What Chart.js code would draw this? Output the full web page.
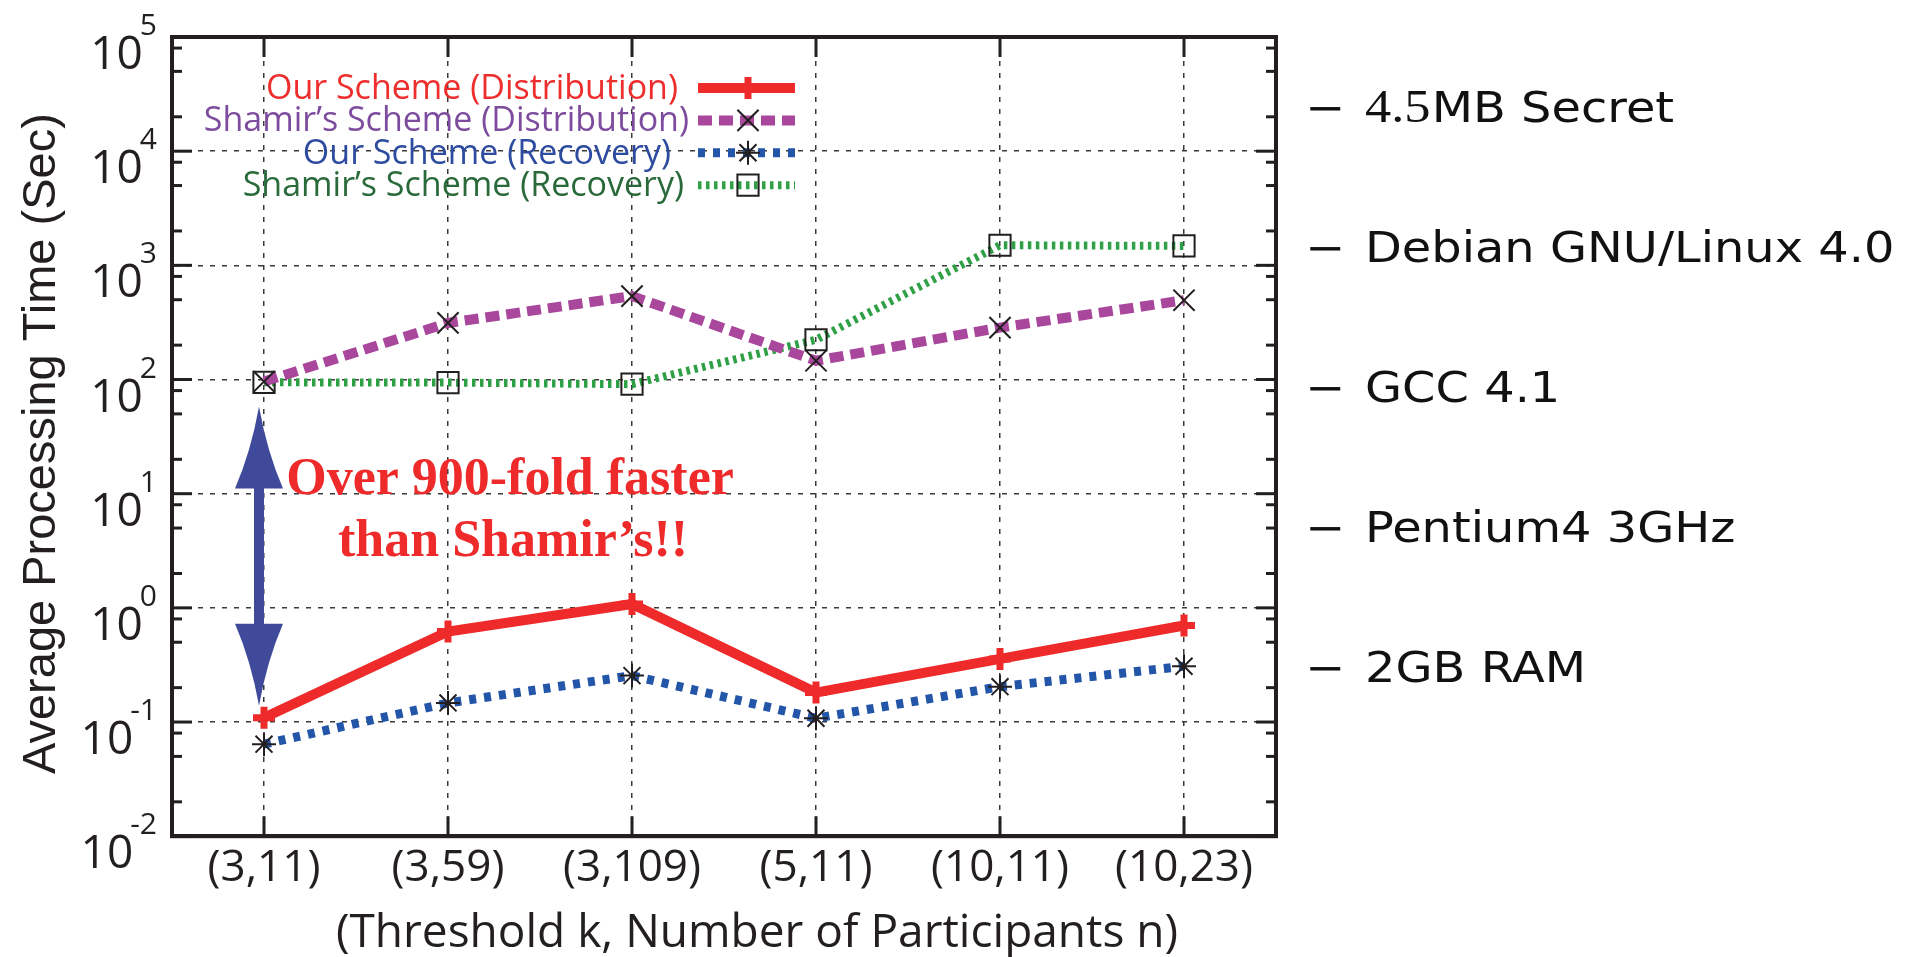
<!DOCTYPE html>
<html>
<head>
<meta charset="utf-8">
<style>
html,body{margin:0;padding:0;background:#fff;}
#wrap{width:1912px;height:957px;position:relative;}
canvas{display:block;}
</style>
<script src="https://cdn.jsdelivr.net/npm/chart.js"></script>
</head>
<body>
<div id="wrap"><canvas id="c"></canvas></div>
<script>
// ---------- data ----------
const categories = ['(3,11)', '(3,59)', '(3,109)', '(5,11)', '(10,11)', '(10,23)'];
const ourDistribution    = [0.109, 0.62, 1.08, 0.181, 0.357, 0.70];
const shamirDistribution = [96, 313, 538, 146, 285, 495];
const ourRecovery        = [0.064, 0.147, 0.255, 0.108, 0.204, 0.308];
const shamirRecovery     = [94.5, 94, 91, 223, 1500, 1480];
const seriesNames = ['Our Scheme (Distribution)', 'Shamir\u2019s Scheme (Distribution)', 'Our Scheme (Recovery)', 'Shamir\u2019s Scheme (Recovery)'];
const yExponents = [-2, -1, 0, 1, 2, 3, 4, 5];
const yMinorMultipliers = [2, 5, 8];
const xTitle = '(Threshold k, Number of Participants n)';
const yTitle = 'Average Processing Time (Sec)';
const noteLines = ['Over 900-fold faster', 'than Shamir\u2019s!!'];
const arrowFrom = 58;     // upper arrow tip (value on y axis)
const arrowTo = 0.139;    // lower arrow tip (value on y axis)
const sideNoteMath = ['4.5', '', '', '', ''];
const sideNotes = ['MB Secret', 'Debian GNU/Linux 4.0', 'GCC 4.1', 'Pentium4 3GHz', '2GB RAM'];

// ---------- styles ----------
const INK = '#231f20';
const legendTextColors = ['#ee2d2d', '#7d4c9e', '#2d4c9f', '#2a6a3a'];
const legendRight = [678, 689, 671, 684];
const SANS = '"Open Sans", "Noto Sans", sans-serif';

const datasets = [
  { label: seriesNames[0], data: ourDistribution, borderColor: '#ee2a2a', borderWidth: 10, borderDash: [],
    pointStyle: 'cross', pointRadius: 11, pointBorderColor: '#ee2a2a', pointBorderWidth: 7, pointBackgroundColor: '#ee2a2a' },
  { label: seriesNames[1], data: shamirDistribution, borderColor: '#a8479b', borderWidth: 10, borderDash: [14, 7],
    pointStyle: 'crossRot', pointRadius: 15, pointBorderColor: INK, pointBorderWidth: 2, pointBackgroundColor: 'rgba(0,0,0,0)' },
  { label: seriesNames[2], data: ourRecovery, borderColor: '#2356a8', borderWidth: 9, borderDash: [7, 8],
    pointStyle: 'star', pointRadius: 12, pointBorderColor: INK, pointBorderWidth: 2, pointBackgroundColor: 'rgba(0,0,0,0)' },
  { label: seriesNames[3], data: shamirRecovery, borderColor: '#2fa046', borderWidth: 8, borderDash: [3.5, 4.5],
    pointStyle: 'rect', pointRadius: 15, pointBorderColor: INK, pointBorderWidth: 2, pointBackgroundColor: 'rgba(0,0,0,0)' }
];
datasets.forEach(d => { d.fill = false; d.tension = 0; d.pointHoverRadius = d.pointRadius; });

function seg(ctx, x1, y1, x2, y2) { ctx.beginPath(); ctx.moveTo(x1, y1); ctx.lineTo(x2, y2); ctx.stroke(); }

function marker(ctx, style, x, y, r, color, w) {
  ctx.save();
  ctx.setLineDash([]);
  ctx.strokeStyle = color; ctx.lineWidth = w;
  ctx.beginPath();
  const d = r * Math.SQRT1_2;
  if (style === 'cross' || style === 'star') { ctx.moveTo(x - r, y); ctx.lineTo(x + r, y); ctx.moveTo(x, y - r); ctx.lineTo(x, y + r); }
  if (style === 'crossRot' || style === 'star') { ctx.moveTo(x - d, y - d); ctx.lineTo(x + d, y + d); ctx.moveTo(x - d, y + d); ctx.lineTo(x + d, y - d); }
  if (style === 'rect') { ctx.rect(x - d, y - d, 2 * d, 2 * d); }
  ctx.stroke();
  ctx.restore();
}

const decor = {
  id: 'decor',
  afterDraw(chart) {
    const ctx = chart.ctx, ca = chart.chartArea, xs = chart.scales.x, ys = chart.scales.y;
    ctx.save();
    ctx.setLineDash([]);

    // frame
    ctx.strokeStyle = INK; ctx.lineWidth = 4;
    ctx.strokeRect(ca.left, ca.top, ca.right - ca.left, ca.bottom - ca.top);

    // inward ticks
    ctx.lineWidth = 3;
    categories.forEach((c, i) => {
      const px = xs.getPixelForValue(i);
      seg(ctx, px, ca.bottom, px, ca.bottom - 20);
      seg(ctx, px, ca.top, px, ca.top + 20);
    });
    yExponents.forEach((e, k) => {
      const py = ys.getPixelForValue(Math.pow(10, e));
      seg(ctx, ca.left, py, ca.left + 20, py);
      seg(ctx, ca.right, py, ca.right - 20, py);
      if (k < yExponents.length - 1) {
        yMinorMultipliers.forEach(m => {
          const pm = ys.getPixelForValue(m * Math.pow(10, e));
          seg(ctx, ca.left, pm, ca.left + 10, pm);
          seg(ctx, ca.right, pm, ca.right - 10, pm);
        });
      }
    });

    // y tick labels 10^e
    ctx.fillStyle = INK; ctx.textBaseline = 'alphabetic';
    yExponents.forEach(e => {
      const py = ys.getPixelForValue(Math.pow(10, e));
      const expStr = e < 0 ? '-' + Math.abs(e) : String(e);
      const expRight = ca.left - 15;
      ctx.font = '30px ' + SANS; ctx.textAlign = 'right';
      ctx.fillText(expStr, expRight, py - 2);
      const ew = ctx.measureText(expStr).width;
      ctx.font = '46px ' + SANS;
      ctx.fillText('10', expRight - ew + 3, py + 32);
    });

    // axis titles
    ctx.save();
    ctx.translate(55, (ca.top + ca.bottom) / 2 + 7);
    ctx.rotate(-Math.PI / 2);
    ctx.textAlign = 'center';
    ctx.font = '47px "Liberation Sans", Arial, sans-serif';
    ctx.fillText(yTitle, 0, 0);
    ctx.restore();
    ctx.textAlign = 'center';
    ctx.font = '46px ' + SANS;
    ctx.fillText(xTitle, (ca.left + ca.right) / 2 + 33, 947);

    // legend
    chart.data.datasets.forEach((ds, i) => {
      const cy = 88 + i * 32.4;
      ctx.font = '34px ' + SANS; ctx.textAlign = 'right'; ctx.fillStyle = legendTextColors[i];
      ctx.fillText(ds.label, legendRight[i], cy + 11);
      ctx.save();
      ctx.strokeStyle = ds.borderColor; ctx.lineWidth = ds.borderWidth; ctx.lineCap = 'butt';
      ctx.setLineDash(ds.borderDash || []);
      seg(ctx, 698, cy, 795, cy);
      ctx.restore();
      marker(ctx, ds.pointStyle, 748, cy, ds.pointRadius, ds.pointBorderColor, ds.pointBorderWidth);
    });

    // double arrow
    const ax = xs.getPixelForValue(0) - 5;
    const t = ys.getPixelForValue(arrowFrom), b = ys.getPixelForValue(arrowTo);
    const hl = 82, hw = 24, sw = 5;
    ctx.fillStyle = '#404a9b';
    ctx.beginPath();
    ctx.moveTo(ax, t);
    ctx.quadraticCurveTo(ax + 8, t + 45, ax + hw, t + hl);
    ctx.lineTo(ax + sw, t + hl);
    ctx.lineTo(ax + sw, b - hl);
    ctx.lineTo(ax + hw, b - hl);
    ctx.quadraticCurveTo(ax + 8, b - 45, ax, b);
    ctx.quadraticCurveTo(ax - 8, b - 45, ax - hw, b - hl);
    ctx.lineTo(ax - sw, b - hl);
    ctx.lineTo(ax - sw, t + hl);
    ctx.lineTo(ax - hw, t + hl);
    ctx.quadraticCurveTo(ax - 8, t + 45, ax, t);
    ctx.closePath();
    ctx.fill();

    // annotation text
    ctx.fillStyle = '#ee2a2a'; ctx.textAlign = 'center';
    ctx.font = 'bold 52px "Liberation Serif", "Times New Roman", serif';
    ctx.fillText(noteLines[0], 510, 494);
    ctx.fillText(noteLines[1], 513, 556);

    // side notes
    ctx.fillStyle = '#111'; ctx.textAlign = 'left';
    sideNotes.forEach((txt, i) => {
      const base = 122 + i * 140;
      ctx.save();
      ctx.translate(1305, base);
      ctx.scale(1.14, 1);
      ctx.font = '42px "DejaVu Sans", sans-serif';
      ctx.fillText('\u2212', 0, 0);
      ctx.restore();
      ctx.save();
      ctx.translate(1365, base);
      ctx.scale(1.14, 1);
      let x = 0;
      if (sideNoteMath[i]) {
        ctx.font = '46px "Liberation Serif", serif';
        ctx.fillText(sideNoteMath[i], 0, 0);
        x += ctx.measureText(sideNoteMath[i]).width + 1;
      }
      ctx.font = '42px "DejaVu Sans", sans-serif';
      ctx.fillText(txt, x, 0);
      ctx.restore();
    });

    ctx.restore();
  }
};

new Chart(document.getElementById('c'), {
  type: 'line',
  data: { labels: categories, datasets: datasets },
  options: {
    responsive: true,
    maintainAspectRatio: false,
    devicePixelRatio: 1,
    animation: false,
    layout: { padding: { left: 172, right: 636, top: 37, bottom: 56 } },
    plugins: { legend: { display: false }, tooltip: { enabled: false } },
    scales: {
      x: {
        type: 'category', offset: true,
        grid: { display: true, drawTicks: false, color: '#3a3a3a', lineWidth: 1.5, offset: false },
        border: { display: true, color: INK, width: 4, dash: [5, 7] },
        ticks: { color: INK, font: { family: SANS, size: 44 }, padding: 6, maxRotation: 0, autoSkip: false }
      },
      y: {
        type: 'logarithmic', min: 0.01, max: 100000,
        afterBuildTicks: s => { s.ticks = yExponents.map(e => ({ value: Math.pow(10, e), major: true })); },
        grid: { display: true, drawTicks: false, color: '#3a3a3a', lineWidth: 1.5 },
        border: { display: true, color: INK, width: 4, dash: [5, 7] },
        ticks: { display: false }
      }
    }
  },
  plugins: [decor]
});
</script>
</body>
</html>
